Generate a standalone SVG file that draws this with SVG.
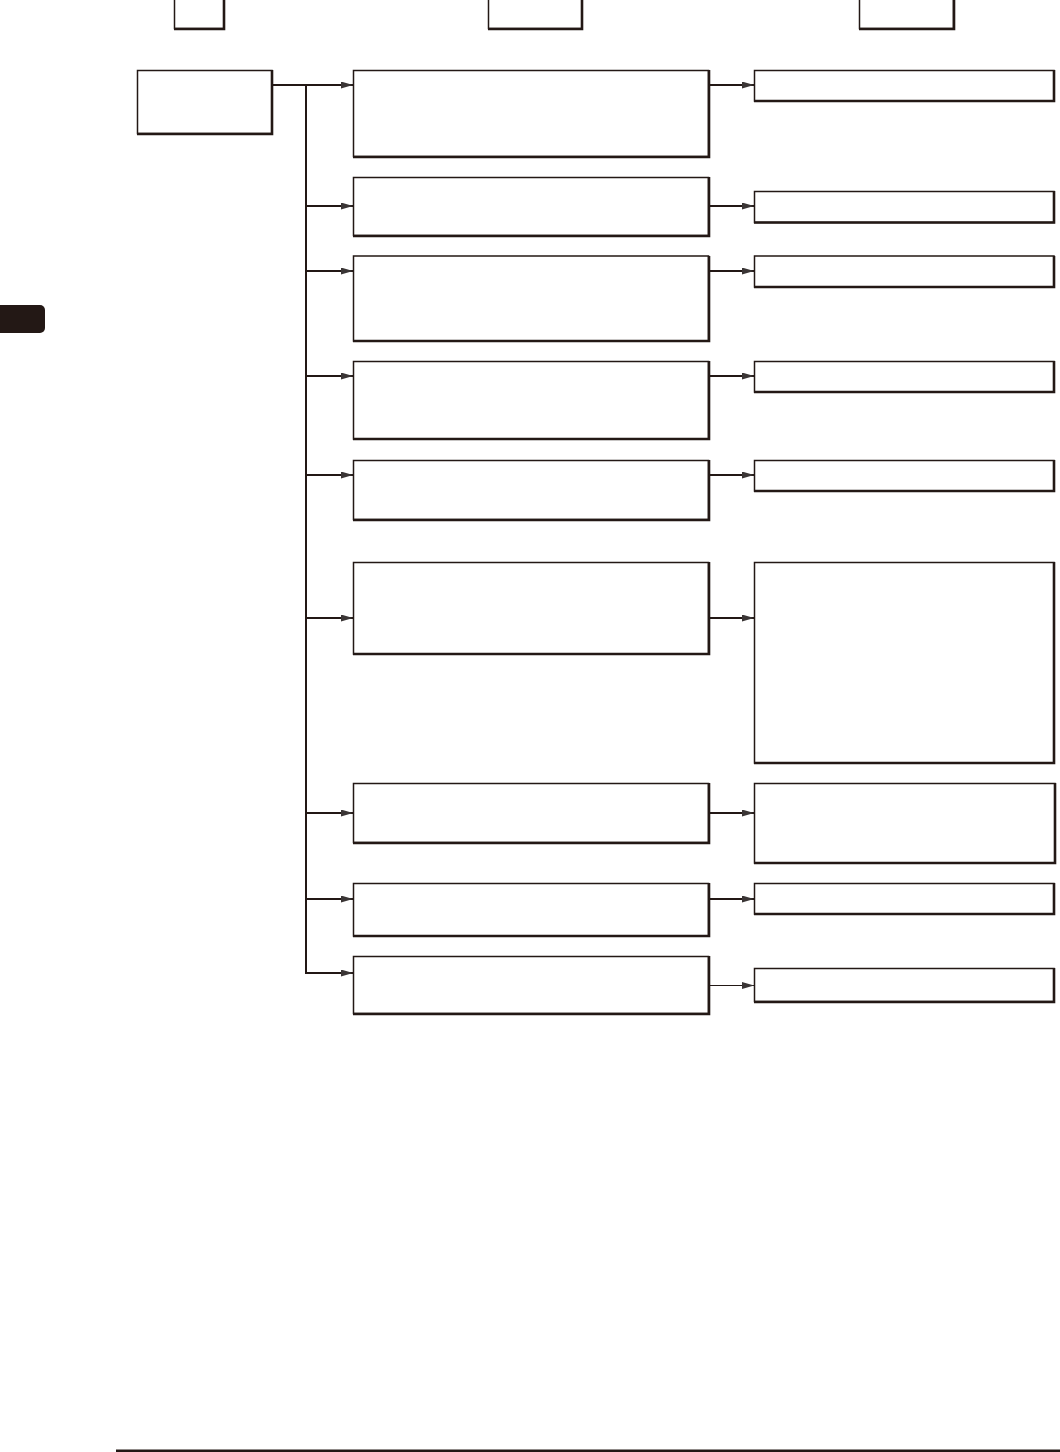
<svg xmlns="http://www.w3.org/2000/svg" width="1060" height="1452" viewBox="0 0 1060 1452">
<style>
.box{fill:#fff;stroke:#231815;stroke-width:1.5}
.sh{fill:none;stroke:#231815;stroke-width:2.6}
.c{fill:none;stroke:#231815;stroke-width:2}
.t{fill:none;stroke:#231815;stroke-width:1}
</style>
<defs>
<marker id="ah" markerUnits="userSpaceOnUse" markerWidth="13" markerHeight="8" refX="12" refY="3.5" orient="auto">
<path d="M0,0 L12,3.5 L0,7 Z" fill="#3a3535"/>
</marker>
</defs>
<rect x="0" y="305" width="45" height="28" rx="5" fill="#231815"/>
<rect x="-10" y="305" width="20" height="28" fill="#231815"/>
<g id="h1"><rect class="box" x="174.5" y="-1" width="49.5" height="29.5"/><path class="sh" d="M224,-1 V29 H174"/></g>
<g id="h2"><rect class="box" x="488.5" y="-1" width="93.5" height="29.5"/><path class="sh" d="M582,-1 V29 H488"/></g>
<g id="h3"><rect class="box" x="859.5" y="-1" width="94" height="29.5"/><path class="sh" d="M954,-1 V29 H859"/></g>
<g id="root"><rect class="box" x="137.5" y="70.5" width="134.5" height="63"/><path class="sh" d="M272,70 V134 H137"/></g>
<g id="m1"><rect class="box" x="353.5" y="70.5" width="355" height="86"/><path class="sh" d="M709,70 V157 H353"/></g>
<g id="m2"><rect class="box" x="353.5" y="177.5" width="355" height="58"/><path class="sh" d="M709,177 V236 H353"/></g>
<g id="m3"><rect class="box" x="353.5" y="256" width="355" height="85"/><path class="sh" d="M709,256 V341 H353"/></g>
<g id="m4"><rect class="box" x="353.5" y="361.5" width="355" height="77.5"/><path class="sh" d="M709,361 V439 H353"/></g>
<g id="m5"><rect class="box" x="353.5" y="460.5" width="355" height="59"/><path class="sh" d="M709,460 V520 H353"/></g>
<g id="m6"><rect class="box" x="353.5" y="562.5" width="355" height="91.5"/><path class="sh" d="M709,562 V654 H353"/></g>
<g id="m7"><rect class="box" x="353.5" y="783.5" width="355" height="59"/><path class="sh" d="M709,783 V843 H353"/></g>
<g id="m8"><rect class="box" x="353.5" y="883.5" width="355" height="52.5"/><path class="sh" d="M709,883 V936 H353"/></g>
<g id="m9"><rect class="box" x="353.5" y="956.5" width="355" height="57"/><path class="sh" d="M709,956 V1014 H353"/></g>
<g id="r1"><rect class="box" x="754.5" y="70.5" width="299.5" height="30.5"/><path class="sh" d="M1054,70 V101 H754"/></g>
<g id="r2"><rect class="box" x="754.5" y="191.5" width="299.5" height="31"/><path class="sh" d="M1054,191 V222.5 H754"/></g>
<g id="r3"><rect class="box" x="754.5" y="256" width="299.5" height="31"/><path class="sh" d="M1054,256 V287 H754"/></g>
<g id="r4"><rect class="box" x="754.5" y="361.5" width="299.5" height="30.5"/><path class="sh" d="M1054,361 V392 H754"/></g>
<g id="r5"><rect class="box" x="754.5" y="460.5" width="299.5" height="30.5"/><path class="sh" d="M1054,460 V491 H754"/></g>
<g id="r6"><rect class="box" x="754.5" y="562.5" width="299.5" height="200.5"/><path class="sh" d="M1054,562 V763 H754"/></g>
<g id="r7"><rect class="box" x="754.5" y="783.5" width="300.5" height="79.5"/><path class="sh" d="M1055,783 V863 H754"/></g>
<g id="r8"><rect class="box" x="754.5" y="883.5" width="299.5" height="30.5"/><path class="sh" d="M1054,883 V914 H754"/></g>
<g id="r9"><rect class="box" x="754.5" y="968.5" width="299.5" height="33"/><path class="sh" d="M1054,968 V1002 H754"/></g>
<g id="connectors">
<path class="c" d="M273,85 H306 M306,84 V973"/>
<path class="c" marker-end="url(#ah)" d="M305,85 H353"/>
<path class="c" marker-end="url(#ah)" d="M306,206 H353"/>
<path class="c" marker-end="url(#ah)" d="M306,271 H353"/>
<path class="c" marker-end="url(#ah)" d="M306,376 H353"/>
<path class="c" marker-end="url(#ah)" d="M306,475 H353"/>
<path class="c" marker-end="url(#ah)" d="M306,618 H353"/>
<path class="c" marker-end="url(#ah)" d="M306,813 H353"/>
<path class="c" marker-end="url(#ah)" d="M306,899 H353"/>
<path class="c" marker-end="url(#ah)" d="M305,973 H353"/>
<path class="c" marker-end="url(#ah)" d="M710,85 H754"/>
<path class="c" marker-end="url(#ah)" d="M710,206 H754"/>
<path class="c" marker-end="url(#ah)" d="M710,271 H754"/>
<path class="c" marker-end="url(#ah)" d="M710,376 H754"/>
<path class="c" marker-end="url(#ah)" d="M710,475 H754"/>
<path class="c" marker-end="url(#ah)" d="M710,618 H754"/>
<path class="c" marker-end="url(#ah)" d="M710,813 H754"/>
<path class="c" marker-end="url(#ah)" d="M710,899 H754"/>
<path class="t" marker-end="url(#ah)" d="M710,985.5 H754"/>
</g>
<rect x="116" y="1449.5" width="944" height="2.5" fill="#231815"/>
</svg>
